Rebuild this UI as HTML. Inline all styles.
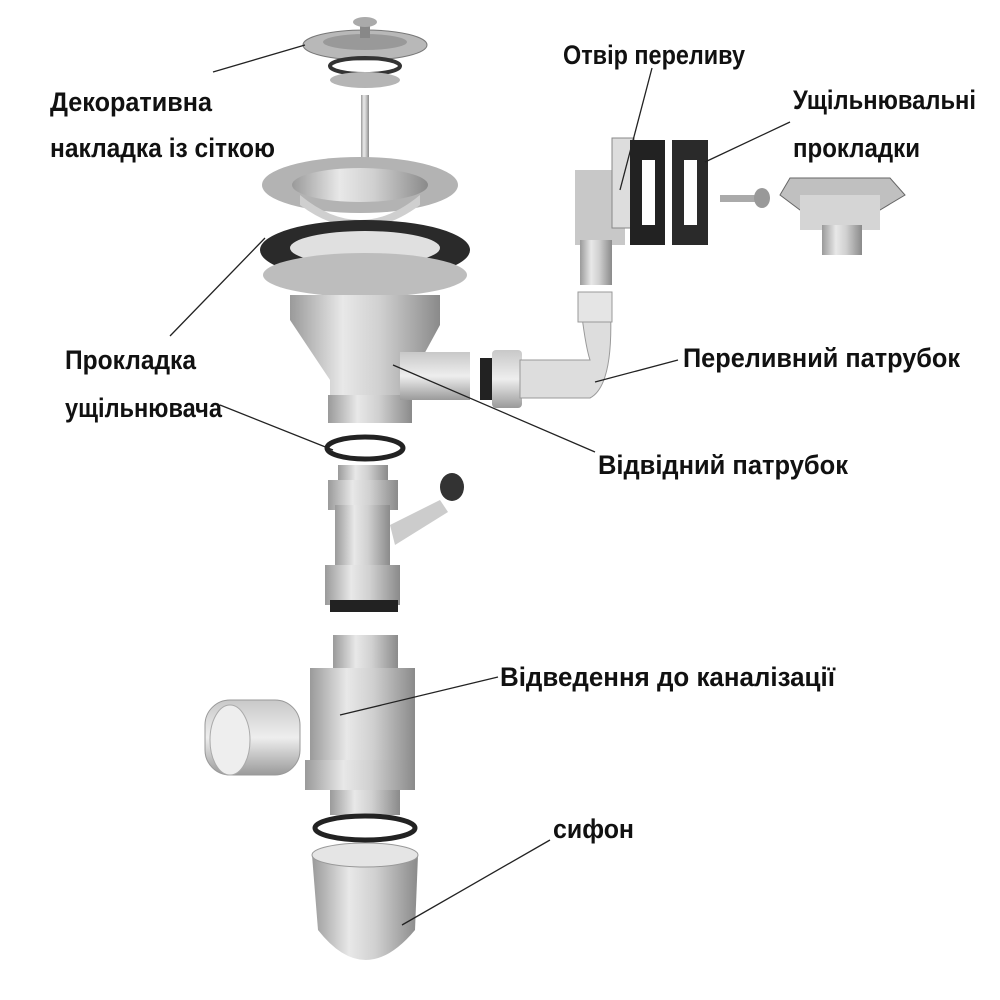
<!DOCTYPE html>
<html><head><meta charset="utf-8"><style>
html,body{margin:0;padding:0;background:#fff}
svg{display:block}
text{font-family:"Liberation Sans",sans-serif;font-weight:bold;font-size:27px;fill:#111}
</style></head><body>
<svg width="1000" height="1000" viewBox="0 0 1000 1000" xmlns="http://www.w3.org/2000/svg">
<defs>
<linearGradient id="g" x1="0" x2="1" y1="0" y2="0">
<stop offset="0" stop-color="#9a9a9a"/><stop offset="0.35" stop-color="#e8e8e8"/><stop offset="0.6" stop-color="#d0d0d0"/><stop offset="1" stop-color="#8a8a8a"/></linearGradient>
<linearGradient id="gv" x1="0" x2="0" y1="0" y2="1">
<stop offset="0" stop-color="#c8c8c8"/><stop offset="0.5" stop-color="#eeeeee"/><stop offset="1" stop-color="#9a9a9a"/></linearGradient>
</defs>
<!-- strainer top -->
<ellipse cx="365" cy="45" rx="62" ry="15" fill="#b8b8b8" stroke="#777"/>
<ellipse cx="365" cy="42" rx="42" ry="8" fill="#999"/>
<rect x="360" y="22" width="10" height="16" fill="#888"/>
<ellipse cx="365" cy="22" rx="12" ry="5" fill="#aaa"/>
<ellipse cx="365" cy="66" rx="35" ry="8" fill="none" stroke="#333" stroke-width="4"/>
<ellipse cx="365" cy="80" rx="35" ry="8" fill="#b5b5b5"/>
<rect x="361" y="95" width="8" height="70" fill="url(#g)"/>
<!-- flange -->
<ellipse cx="360" cy="185" rx="98" ry="28" fill="#b3b3b3"/>
<ellipse cx="360" cy="185" rx="68" ry="17" fill="url(#g)"/>
<path d="M300 195 Q360 245 420 195 L420 205 Q360 250 300 205Z" fill="#cfcfcf"/>
<!-- black gasket -->
<ellipse cx="365" cy="250" rx="105" ry="30" fill="#2a2a2a"/>
<ellipse cx="365" cy="248" rx="75" ry="17" fill="#e0e0e0"/>
<ellipse cx="365" cy="275" rx="102" ry="22" fill="#bdbdbd"/>
<!-- body funnel -->
<path d="M290 295 L440 295 L440 325 L410 380 L410 410 L330 410 L330 380 L290 320Z" fill="url(#g)"/>
<rect x="328" y="395" width="84" height="28" fill="url(#g)"/>
<rect x="400" y="352" width="70" height="48" fill="url(#gv)"/>
<!-- nut + hose -->
<rect x="480" y="358" width="12" height="42" fill="#222"/>
<rect x="492" y="350" width="30" height="58" rx="4" fill="url(#gv)"/>
<path d="M520 360 L590 360 Q585 345 580 300 L610 300 Q615 385 590 398 L520 398Z" fill="#ddd" stroke="#999"/>
<rect x="578" y="292" width="34" height="30" fill="#e5e5e5" stroke="#999"/>
<!-- overflow -->
<rect x="575" y="170" width="50" height="75" fill="#c8c8c8"/>
<rect x="580" y="240" width="32" height="45" fill="url(#g)"/>
<rect x="612" y="138" width="22" height="90" fill="#ddd" stroke="#888"/>
<path d="M630 140 L665 140 L665 245 L630 245Z M642 160 L655 160 L655 225 L642 225Z" fill="#222" fill-rule="evenodd"/>
<path d="M672 140 L708 140 L708 245 L672 245Z M684 160 L697 160 L697 225 L684 225Z" fill="#2a2a2a" fill-rule="evenodd"/>
<rect x="720" y="195" width="40" height="7" fill="#aaa"/>
<ellipse cx="762" cy="198" rx="8" ry="10" fill="#999"/>
<path d="M790 178 L890 178 L905 195 L880 210 L800 210 L780 195Z" fill="#c0c0c0" stroke="#666"/>
<rect x="800" y="195" width="80" height="35" fill="#d5d5d5"/>
<rect x="822" y="225" width="40" height="30" fill="url(#g)"/>
<!-- ring -->
<ellipse cx="365" cy="448" rx="38" ry="11" fill="none" stroke="#222" stroke-width="5"/>
<!-- tee pipe -->
<rect x="338" y="465" width="50" height="30" fill="url(#g)"/>
<rect x="328" y="480" width="70" height="30" fill="url(#g)"/>
<rect x="335" y="505" width="55" height="65" fill="url(#g)"/>
<path d="M390 525 L440 500 L448 512 L395 545Z" fill="#ccc"/>
<ellipse cx="452" cy="487" rx="12" ry="14" fill="#333"/>
<rect x="325" y="565" width="75" height="40" fill="url(#g)"/>
<rect x="330" y="600" width="68" height="12" fill="#222"/>
<!-- lower body -->
<rect x="333" y="635" width="65" height="40" fill="url(#g)"/>
<rect x="310" y="668" width="105" height="100" fill="url(#g)"/>
<rect x="205" y="700" width="95" height="75" rx="25" fill="url(#gv)" stroke="#999"/>
<ellipse cx="230" cy="740" rx="20" ry="35" fill="#eee" stroke="#aaa"/>
<rect x="305" y="760" width="110" height="30" fill="url(#g)"/>
<rect x="330" y="790" width="70" height="25" fill="url(#g)"/>
<ellipse cx="365" cy="828" rx="50" ry="12" fill="none" stroke="#222" stroke-width="5"/>
<path d="M312 855 L418 855 L415 930 Q365 990 318 930Z" fill="url(#g)"/>
<ellipse cx="365" cy="855" rx="53" ry="12" fill="#e5e5e5" stroke="#999"/>
<!-- leader lines -->
<g stroke="#222" stroke-width="1.3" fill="none">
<line x1="213" y1="72" x2="305" y2="45"/>
<line x1="170" y1="336" x2="265" y2="238"/>
<line x1="220" y1="405" x2="333" y2="450"/>
<line x1="652" y1="68" x2="620" y2="190"/>
<line x1="790" y1="122" x2="705" y2="162"/>
<line x1="678" y1="360" x2="595" y2="382"/>
<line x1="595" y1="452" x2="393" y2="365"/>
<line x1="498" y1="677" x2="340" y2="715"/>
<line x1="550" y1="840" x2="402" y2="925"/>
</g>
<g>
<text x="50" y="111" textLength="162" lengthAdjust="spacingAndGlyphs">Декоративна</text>
<text x="50" y="157" textLength="225" lengthAdjust="spacingAndGlyphs">накладка із сіткою</text>
<text x="563" y="64" textLength="182" lengthAdjust="spacingAndGlyphs">Отвір переливу</text>
<text x="793" y="109" textLength="183" lengthAdjust="spacingAndGlyphs">Ущільнювальні</text>
<text x="793" y="157" textLength="127" lengthAdjust="spacingAndGlyphs">прокладки</text>
<text x="65" y="369" textLength="131" lengthAdjust="spacingAndGlyphs">Прокладка</text>
<text x="65" y="417" textLength="157" lengthAdjust="spacingAndGlyphs">ущільнювача</text>
<text x="683" y="367" textLength="277" lengthAdjust="spacingAndGlyphs">Переливний патрубок</text>
<text x="598" y="474" textLength="250" lengthAdjust="spacingAndGlyphs">Відвідний патрубок</text>
<text x="500" y="686" textLength="335" lengthAdjust="spacingAndGlyphs">Відведення до каналізації</text>
<text x="553" y="838" textLength="81" lengthAdjust="spacingAndGlyphs">сифон</text>
</g>
</svg>
</body></html>
